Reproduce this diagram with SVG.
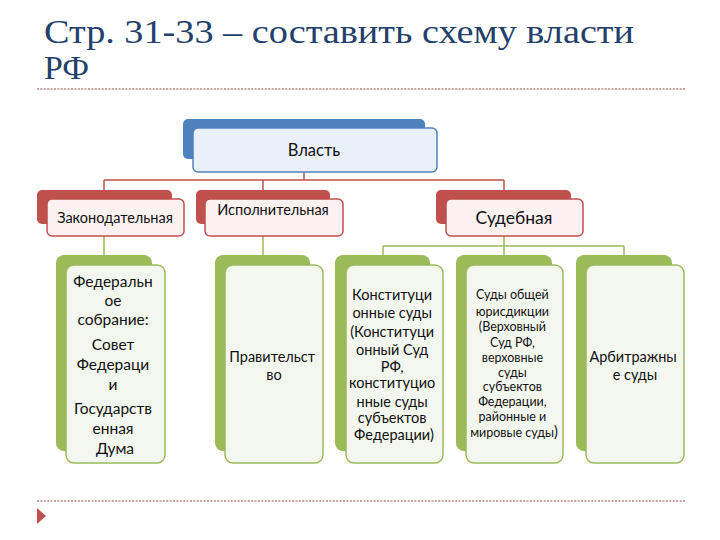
<svg xmlns="http://www.w3.org/2000/svg" width="720" height="540" viewBox="0 0 720 540">
<style>
.t{font-family:Lato,"Open Sans","DejaVu Sans",sans-serif;fill:#111;text-anchor:middle}
.bb{fill:#4F81BD}
.bf{fill:#EAF0F8;stroke:#4F81BD;stroke-width:1.5}
.rb{fill:#C0504D}
.rf{fill:#FBF1F1;stroke:#C0504D;stroke-width:1.5}
.gb{fill:#9BBB59}
.gf{fill:#F4F7EF;stroke:#9BBB59;stroke-width:1.5}
.rc{fill:none;stroke:#C0504D;stroke-width:1.5}
.gc{fill:none;stroke:#9BBB59;stroke-width:1.5}
.dot{stroke:#C9A3A3;stroke-width:2;stroke-dasharray:2 1.4}
.ttl{font-family:'Liberation Serif','DejaVu Serif',serif;font-size:33px;fill:#23406A}
</style>
<rect width="720" height="540" fill="#fff"/>
<g id="title">
<text class="ttl" x="44" y="43" textLength="590" lengthAdjust="spacingAndGlyphs">Стр. 31-33 – составить схему власти</text>
<text class="ttl" x="44" y="79" textLength="45" lengthAdjust="spacingAndGlyphs">РФ</text>
<line class="dot" x1="37" y1="89" x2="685" y2="89"/>
<line class="dot" x1="37" y1="501" x2="685" y2="501"/>
<polygon points="37,508 46,516 37,524" fill="#C0504D"/>
</g>
<g id="connectors">
<path class="rc" d="M304,172V180M104,180H504M104,180V191M263,180V191M504,180V191"/>
<path class="gc" d="M104,236V256M263,236V256M504,236V246M383,246H624M383,246V256M504,246V256M624,246V256"/>
</g>
<g id="vlast">
<rect class="bb" x="183" y="119" width="242" height="40" rx="5"/>
<rect class="bf" x="193" y="128" width="244" height="44" rx="5"/>
<text class="t" x="314" y="156" font-size="16.5">Власть</text>
</g>
<g id="zakon">
<rect class="rb" x="37" y="190" width="135" height="34" rx="5"/>
<rect class="rf" x="47" y="199" width="137" height="37" rx="5"/>
<text class="t" x="115" y="223" font-size="14.5">Законодательная</text>
</g>
<g id="ispoln">
<rect class="rb" x="196" y="190" width="134" height="34" rx="5"/>
<rect class="rf" x="205" y="199" width="138" height="37" rx="5"/>
<text class="t" x="273" y="215" font-size="14.5">Исполнительная</text>
</g>
<g id="sud">
<rect class="rb" x="436" y="190" width="135" height="34" rx="5"/>
<rect class="rf" x="446" y="199" width="137" height="37" rx="5"/>
<text class="t" x="514" y="224" font-size="17.5">Судебная</text>
</g>
<g id="fedsobr">
<rect class="gb" x="56" y="255" width="96" height="196" rx="8"/>
<rect class="gf" x="66" y="265" width="99" height="198" rx="8"/>
<text class="t" font-size="15.5">
<tspan x="115" y="287">Федеральн</tspan>
<tspan x="115" y="306">ое</tspan>
<tspan x="115" y="325">собрание:</tspan>
<tspan x="115" y="350">Совет</tspan>
<tspan x="115" y="370">Федераци</tspan>
<tspan x="115" y="390">и</tspan>
<tspan x="115" y="414">Государств</tspan>
<tspan x="115" y="434">енная</tspan>
<tspan x="115" y="454">Дума</tspan>
</text>
</g>
<g id="pravit">
<rect class="gb" x="215" y="255" width="95" height="196" rx="8"/>
<rect class="gf" x="225" y="265" width="98" height="198" rx="8"/>
<text class="t" font-size="14.5">
<tspan x="274" y="362">Правительст</tspan>
<tspan x="274" y="380">во</tspan>
</text>
</g>
<g id="konst">
<rect class="gb" x="335" y="255" width="95" height="196" rx="8"/>
<rect class="gf" x="346" y="265" width="97" height="198" rx="8"/>
<text class="t" font-size="14.5">
<tspan x="394" y="300">Конституци</tspan>
<tspan x="394" y="318">онные суды</tspan>
<tspan x="394" y="337">(Конституци</tspan>
<tspan x="394" y="355">онный Суд</tspan>
<tspan x="394" y="372">РФ,</tspan>
<tspan x="394" y="388">конституцио</tspan>
<tspan x="394" y="407">нные суды</tspan>
<tspan x="394" y="423">субъектов</tspan>
<tspan x="394" y="440">Федерации)</tspan>
</text>
</g>
<g id="obsh">
<rect class="gb" x="456" y="255" width="96" height="196" rx="8"/>
<rect class="gf" x="466" y="265" width="97" height="198" rx="8"/>
<text class="t" font-size="12.5">
<tspan x="514" y="299">Суды общей</tspan>
<tspan x="514" y="316">юрисдикции</tspan>
<tspan x="514" y="331">(Верховный</tspan>
<tspan x="514" y="347">Суд РФ,</tspan>
<tspan x="514" y="362">верховные</tspan>
<tspan x="514" y="377">суды</tspan>
<tspan x="514" y="391">субъектов</tspan>
<tspan x="514" y="406">Федерации,</tspan>
<tspan x="514" y="421">районные и</tspan>
<tspan x="514" y="437">мировые суды<tspan font-size="14.5">)</tspan></tspan>
</text>
</g>
<g id="arbitr">
<rect class="gb" x="576" y="255" width="96" height="196" rx="8"/>
<rect class="gf" x="586" y="265" width="98" height="198" rx="8"/>
<text class="t" font-size="14.5">
<tspan x="635" y="362">Арбитражны</tspan>
<tspan x="635" y="380">е суды</tspan>
</text>
</g>
</svg>
